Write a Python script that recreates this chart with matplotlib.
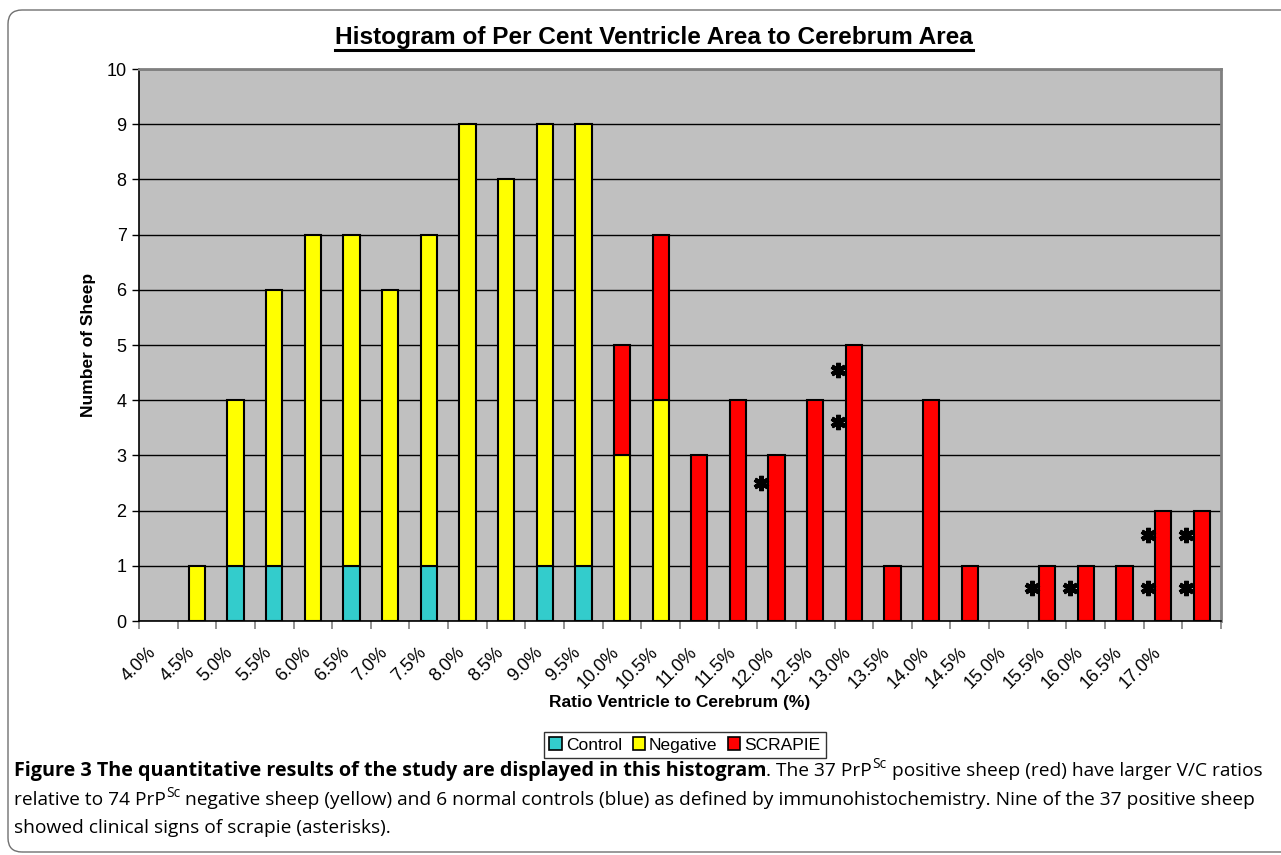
import matplotlib
matplotlib.use('Agg')
import matplotlib.pyplot as plt
from matplotlib.patches import Patch, FancyBboxPatch
from matplotlib.lines import Line2D
from matplotlib.transforms import IdentityTransform, ScaledTranslation
import numpy as np

# ---------------- data ----------------
categories = ['4.0%', '4.5%', '5.0%', '5.5%', '6.0%', '6.5%', '7.0%', '7.5%',
              '8.0%', '8.5%', '9.0%', '9.5%', '10.0%', '10.5%', '11.0%', '11.5%',
              '12.0%', '12.5%', '13.0%', '13.5%', '14.0%', '14.5%', '15.0%',
              '15.5%', '16.0%', '16.5%', '17.0%', '']
control = [0, 0, 1, 1, 0, 1, 0, 1, 0, 0, 1, 1, 0, 0,
           0, 0, 0, 0, 0, 0, 0, 0, 0, 0, 0, 0, 0, 0]
negative = [0, 1, 3, 5, 7, 6, 6, 6, 9, 8, 8, 8, 3, 4,
            0, 0, 0, 0, 0, 0, 0, 0, 0, 0, 0, 0, 0, 0]
scrapie = [0, 0, 0, 0, 0, 0, 0, 0, 0, 0, 0, 0, 2, 3,
           3, 4, 3, 4, 5, 1, 4, 1, 0, 1, 1, 1, 2, 2]
# clinical-sign asterisks: bin index and height
star_bin = [16, 18, 18, 23, 24, 26, 26, 27, 27]
star_y = [2.5, 4.55, 3.6, 0.6, 0.6, 0.6, 1.55, 0.6, 1.55]
series_names = ['Control', 'Negative', 'SCRAPIE']
yticks = list(range(0, 11))

title = 'Histogram of Per Cent Ventricle Area to Cerebrum Area'
xlabel = 'Ratio Ventricle to Cerebrum (%)'
ylabel = 'Number of Sheep'

# ---------------- style ----------------
C_CTRL = '#33CCCC'
C_NEG = '#FFFF00'
C_SCR = '#FF0000'
BG = '#C0C0C0'
W, H = 1281, 855

plt.rcParams['font.family'] = ['Liberation Sans', 'DejaVu Sans']

fig = plt.figure(figsize=(W / 100, H / 100), dpi=100)
fig.patch.set_facecolor('white')

L, R, T, B = 139, 1221, 69, 621
ax = fig.add_axes([L / W, (H - B) / H, (R - L) / W, (B - T) / H])
ax.set_facecolor(BG)

x = np.arange(len(categories))
ctrl = np.array(control)
neg = np.array(negative)
scr = np.array(scrapie)
bw = 0.42
kw = dict(width=bw, edgecolor='black', linewidth=1.5, zorder=3)
ax.bar(x, ctrl, color=C_CTRL, **kw)
ax.bar(x, neg, bottom=ctrl, color=C_NEG, **kw)
ax.bar(x, scr, bottom=ctrl + neg, color=C_SCR, **kw)
for cont in ax.containers:
    for rect in cont:
        if rect.get_height() == 0:
            rect.set_visible(False)

ax.plot(np.array(star_bin) - 0.4, star_y, linestyle='none', marker=(6, 2, 0),
        markersize=11, markeredgewidth=3.2, color='black', zorder=4)

ax.set_xlim(-0.5, len(categories) - 0.5)
ax.set_ylim(0, 10)
ax.set_yticks(yticks)
ax.set_yticklabels([str(v) for v in yticks], fontsize=13)
ax.yaxis.grid(True, color='black', linewidth=1.0, zorder=1)
ax.set_axisbelow(True)

ax.set_xticks(x)
ax.set_xticklabels(categories, fontsize=13, rotation=45, ha='right',
                   va='center', rotation_mode='anchor')
ax.tick_params(axis='x', which='major', length=0, pad=21)
shift = ScaledTranslation(-5 / 100, 0, fig.dpi_scale_trans)
for lab in ax.get_xticklabels():
    lab.set_transform(lab.get_transform() + shift)
ax.set_xticks(np.arange(-0.5, len(categories)), minor=True)
ax.tick_params(axis='x', which='minor', length=6, width=1.2, color='#808080',
               direction='out')
ax.tick_params(axis='y', length=5, width=1.0, color='black', direction='out',
               pad=4)

for s in ['top', 'right']:
    ax.spines[s].set_color('#808080')
    ax.spines[s].set_linewidth(2)
for s in ['left', 'bottom']:
    ax.spines[s].set_color('black')
    ax.spines[s].set_linewidth(1.2)

ax.set_xlabel(xlabel, fontsize=12.5, fontweight='bold', labelpad=0)
ax.xaxis.set_label_coords((680 - L) / (R - L), -(703 - B) / (B - T))
ax.xaxis.label.set_va('center')
ax.set_ylabel(ylabel, fontsize=12.5, fontweight='bold')
ax.yaxis.set_label_coords(-(L - 89) / (R - L), 0.5)
ax.yaxis.label.set_va('center')

renderer = fig.canvas.get_renderer()
IT = IdentityTransform()

# title (fit to reference width)
tt = fig.text(654, H - 37, title, transform=IT, ha='center', va='center',
              fontsize=16, fontweight='bold')
w = tt.get_window_extent(renderer).width
tt.set_fontsize(16 * 636 / w)
bb = tt.get_window_extent(renderer)
fig.add_artist(Line2D([bb.x0, bb.x1], [bb.y0 - 1, bb.y0 - 1], transform=IT,
                      color='black', linewidth=2.2))

# legend
handles = [Patch(facecolor=c, edgecolor='black', linewidth=1.2)
           for c in (C_CTRL, C_NEG, C_SCR)]
leg = fig.legend(handles, series_names, loc='center',
                 bbox_to_anchor=(685 / W, 1 - 745 / H), ncol=3, fontsize=12.5,
                 frameon=True, fancybox=False, edgecolor='black',
                 handlelength=0.7, handleheight=0.7, handletextpad=0.25,
                 columnspacing=0.6, borderpad=0.3, borderaxespad=0)
leg.get_frame().set_linewidth(1.0)

# caption
CAP_FONT = ['Open Sans', 'DejaVu Sans']


def draw_line(segs, x0, ybase, fs_norm, fs_bold, draw=True):
    xx = x0
    for txt, weight, sup in segs:
        f = fs_bold if weight == 'bold' else fs_norm
        lead = len(txt) - len(txt.lstrip(' '))
        if lead:
            t1 = fig.text(0, 0, 'a a', transform=IT, fontsize=f, family=CAP_FONT)
            t2 = fig.text(0, 0, 'aa', transform=IT, fontsize=f, family=CAP_FONT)
            xx += (t1.get_window_extent(renderer).width
                   - t2.get_window_extent(renderer).width) * lead
            t1.remove()
            t2.remove()
            txt = txt.lstrip(' ')
        if sup:
            yy = ybase + f * 0.42 * 100 / 72
            f = f * 0.72
        else:
            yy = ybase
        t = fig.text(xx, yy, txt, transform=IT, fontsize=f, fontweight=weight,
                     family=CAP_FONT, va='baseline', ha='left')
        xx = t.get_window_extent(renderer).x1
        if not draw:
            t.remove()
    return xx - x0


line1 = [('Figure 3 The quantitative results of the study are displayed in this histogram', 'bold', False),
         ('. The 37 PrP', 'normal', False), ('Sc', 'normal', True),
         (' positive sheep (red) have larger V/C ratios', 'normal', False)]
line2 = [('relative to 74 PrP', 'normal', False), ('Sc', 'normal', True),
         (' negative sheep (yellow) and 6 normal controls (blue) as defined by immunohistochemistry. Nine of the 37 positive sheep', 'normal', False)]
line3 = [('showed clinical signs of scrapie (asterisks).', 'normal', False)]
bold_part = line1[:1]
norm_part = line1[1:]

fs0 = 12
fsn = fs0 * 1231 / draw_line(line2, 0, -100, fs0, fs0, draw=False)
fsb = fs0 * 755 / draw_line(bold_part, 0, -100, fs0, fs0, draw=False)
x0 = 14
draw_line(line1, x0, H - 776, fsn, fsb)
draw_line(line2, x0, H - 805, fsn, fsb)
draw_line(line3, x0, H - 833, fsn, fsb)

# rounded panel border
fig.add_artist(FancyBboxPatch((8, 3), 1400, H - 13, transform=IT,
                              boxstyle='round,pad=0,rounding_size=14',
                              facecolor='none', edgecolor='#707070',
                              linewidth=1.0))

fig.savefig('out.png', dpi=100)
